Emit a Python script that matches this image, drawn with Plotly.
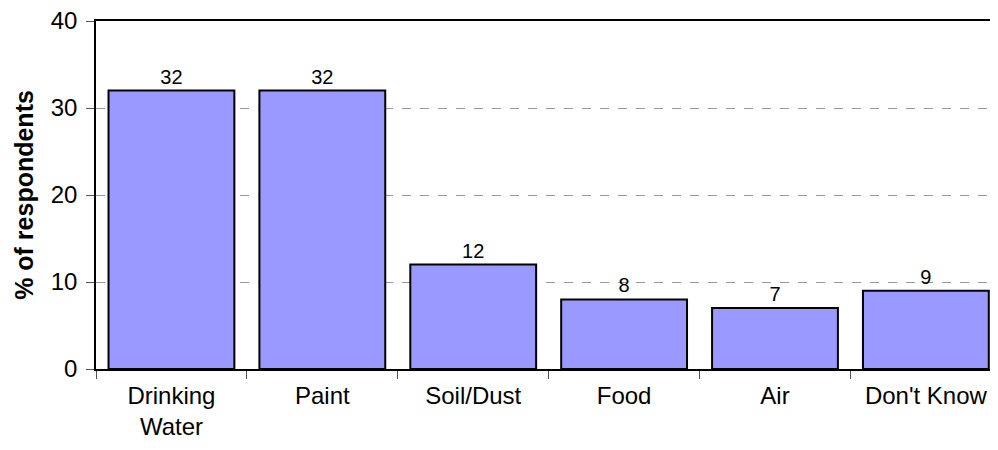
import plotly.graph_objects as go

categories = ['Drinking<br>Water', 'Paint', 'Soil/Dust', 'Food', 'Air', "Don't Know"]
values = [32, 32, 12, 8, 7, 9]

fig = go.Figure()
fig.add_trace(go.Bar(
    x=categories, y=values,
    marker=dict(color='#9999FF', line=dict(color='black', width=2)),
    text=values, textposition='outside', cliponaxis=False,
    textfont=dict(size=20, color='black'),
))

# page body adds an 8px margin, so the figure is sized to land at the right spot
fig.update_layout(
    width=982, height=434,
    margin=dict(l=88, r=0, t=13, b=73),
    paper_bgcolor='white', plot_bgcolor='white',
    font=dict(family='Liberation Sans, Arial, sans-serif', color='black'),
    bargap=0.166, showlegend=False,
)
fig.update_xaxes(
    range=[-0.5, 5.425], showline=True, linecolor='black', linewidth=1.5, mirror=True,
    ticks='outside', tickson='boundaries', ticklen=8, tickcolor='#555',
    tickfont=dict(size=24), ticklabelstandoff=4, automargin=False,
)
fig.update_yaxes(
    range=[0, 40], dtick=10, showline=True, linecolor='black', linewidth=1.5,
    ticks='outside', ticklen=8, tickcolor='#555',
    tickfont=dict(size=24), ticklabelstandoff=4, automargin=False,
    ticklabeloverflow='allow',
    showgrid=True, gridcolor='#999', griddash='dash', gridwidth=1,
    title=dict(text='<b>% of respondents</b>', font=dict(size=25), standoff=10),
)

fig.write_html('out.html')
